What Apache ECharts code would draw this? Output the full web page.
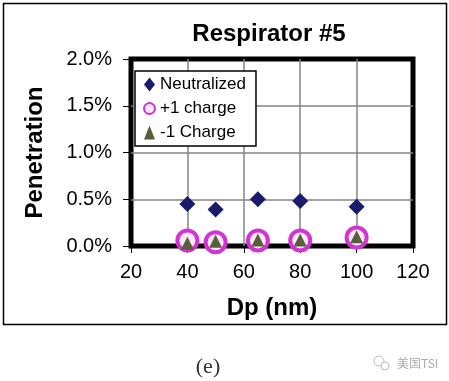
<!DOCTYPE html>
<html>
<head>
<meta charset="utf-8">
<script src="https://cdn.jsdelivr.net/npm/echarts@6/dist/echarts.min.js"></script>
<style>html,body{margin:0;padding:0;background:#fff;}#c{width:449px;height:381px;}</style>
</head>
<body>
<div id="c"></div>
<script>
var xTicks = [20, 40, 60, 80, 100, 120];
var yTicks = [0, 0.5, 1.0, 1.5, 2.0];
var dp = [40, 50, 65, 80, 100];
var neutralized = [0.45, 0.39, 0.50, 0.48, 0.42];
var plusOne = [0.06, 0.04, 0.06, 0.06, 0.09];
var minusOne = [0.03, 0.05, 0.065, 0.065, 0.10];

function pairs(xs, ys) { return xs.map(function (x, i) { return [x, ys[i]]; }); }

var chart = echarts.init(document.getElementById('c'), null, { renderer: 'canvas' });
var font = 'Liberation Sans, Arial, sans-serif';
chart.setOption({
  animation: false,
  backgroundColor: '#fff',
  title: {
    text: 'Respirator #5',
    left: 269, top: 22, padding: 0, textAlign: 'center',
    textStyle: { fontFamily: font, fontSize: 24, fontWeight: 'bold', color: '#000' }
  },
  legend: {
    orient: 'vertical', left: 135, top: 71,
    padding: [5, 10, 5, 8],
    itemGap: 7, itemWidth: 11, itemHeight: 14,
    backgroundColor: '#fff', borderColor: '#000', borderWidth: 1.5, borderRadius: 0,
    textStyle: { fontFamily: font, fontSize: 17, color: '#000' },
    data: ['Neutralized', '+1 charge', '-1 Charge']
  },
  grid: {
    left: 131, top: 59, right: 36, bottom: 135,
    show: true, borderColor: '#000', borderWidth: 5, backgroundColor: 'transparent'
  },
  xAxis: {
    type: 'value', min: xTicks[0], max: xTicks[xTicks.length - 1], interval: 20,
    name: 'Dp (nm)', nameLocation: 'middle', nameGap: 50,
    nameTextStyle: { fontFamily: font, fontSize: 24, fontWeight: 'bold', color: '#000' },
    axisLine: { show: false },
    axisTick: { show: true, inside: false, length: 7, lineStyle: { color: '#000', width: 1 } },
    axisLabel: { fontFamily: font, fontSize: 20, color: '#000', margin: 16 },
    splitLine: { show: true, showMinLine: false, showMaxLine: false, lineStyle: { color: '#858585', width: 1.5 } }
  },
  yAxis: {
    type: 'value', min: yTicks[0], max: yTicks[yTicks.length - 1], interval: 0.5,
    name: 'Penetration', nameLocation: 'middle', nameGap: 84, nameRotate: 90,
    nameTextStyle: { fontFamily: font, fontSize: 24, fontWeight: 'bold', color: '#000' },
    axisLine: { show: false },
    axisTick: { show: true, inside: false, length: 8, lineStyle: { color: '#000', width: 1 } },
    axisLabel: { fontFamily: font, fontSize: 20, color: '#000', margin: 19,
      formatter: function (v) { return v.toFixed(1) + '%'; } },
    splitLine: { show: true, showMinLine: false, showMaxLine: false, lineStyle: { color: '#858585', width: 1.5 } }
  },
  series: [
    { name: 'Neutralized', type: 'scatter', symbol: 'diamond', symbolSize: 16,
      itemStyle: { color: '#1a1a6e', opacity: 1 }, data: pairs(dp, neutralized) },
    { name: '+1 charge', type: 'scatter', symbol: 'circle', symbolSize: 20,
      itemStyle: { color: '#fbe9fb', borderColor: '#d433d4', borderWidth: 4, opacity: 1 }, data: pairs(dp, plusOne) },
    { name: '-1 Charge', type: 'scatter', symbol: 'triangle', symbolSize: 13,
      itemStyle: { color: '#56613a', opacity: 1 }, data: pairs(dp, minusOne) }
  ],
  graphic: [
    { type: 'rect', shape: { x: 3.5, y: 3.5, width: 443, height: 321 }, silent: true, z: -10,
      style: { fill: 'none', stroke: '#000', lineWidth: 1.5 } },
    { type: 'text', x: 208, y: 367, silent: true,
      style: { text: '(e)', font: '22px "Liberation Serif", "DejaVu Serif", serif', fill: '#333',
        textAlign: 'center', textVerticalAlign: 'middle' } },
    { type: 'circle', shape: { cx: 379, cy: 361, r: 5 }, silent: true,
      style: { fill: 'none', stroke: '#bbb', lineWidth: 1 } },
    { type: 'circle', shape: { cx: 385, cy: 366, r: 4 }, silent: true,
      style: { fill: '#fff', stroke: '#bbb', lineWidth: 1 } },
    { type: 'text', x: 397, y: 363, silent: true,
      style: { text: '美国TSI', font: '12px "Noto Sans CJK SC", sans-serif', fill: '#aaa',
        textAlign: 'left', textVerticalAlign: 'middle' } }
  ]
});
</script>
</body>
</html>
